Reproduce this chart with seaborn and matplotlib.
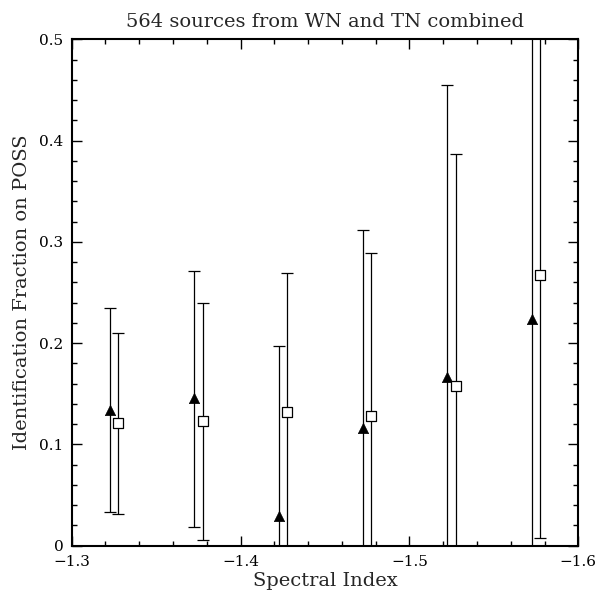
import numpy as np
import pandas as pd
import matplotlib
matplotlib.use("Agg")
import matplotlib.pyplot as plt
import seaborn as sns
from matplotlib.ticker import MultipleLocator

# Data
bin_centers = [-1.325, -1.375, -1.425, -1.475, -1.525, -1.575]
offset = 0.0025

tri_frac = [0.134, 0.146, 0.029, 0.116, 0.167, 0.224]
tri_low = [0.033, 0.018, -0.05, -0.05, -0.05, -0.05]
tri_high = [0.235, 0.271, 0.197, 0.312, 0.455, 0.60]

sq_frac = [0.121, 0.123, 0.132, 0.128, 0.158, 0.267]
sq_low = [0.031, 0.006, -0.05, -0.05, -0.05, 0.008]
sq_high = [0.210, 0.240, 0.269, 0.289, 0.387, 0.60]

title = "564 sources from WN and TN combined"
xlabel = "Spectral Index"
ylabel = "Identification Fraction on POSS"

sns.set_style("ticks")
plt.rcParams["font.family"] = ["DejaVu Serif", "DejaVu Sans"]
plt.rcParams["axes.unicode_minus"] = True

tri_x = [c + offset for c in bin_centers]
sq_x = [c - offset for c in bin_centers]

df_tri = pd.DataFrame({"x": tri_x, "y": tri_frac, "lo": tri_low, "hi": tri_high})
df_sq = pd.DataFrame({"x": sq_x, "y": sq_frac, "lo": sq_low, "hi": sq_high})

fig = plt.figure(figsize=(5.97, 5.96), dpi=100)
ax = fig.add_axes([0.120, 0.0844, 0.8487, 0.8497])

err_kw = dict(fmt="none", ecolor="black", elinewidth=0.9, capsize=4.3, capthick=0.9, zorder=2)
ax.errorbar(df_tri["x"], df_tri["y"],
            yerr=[df_tri["y"] - df_tri["lo"], df_tri["hi"] - df_tri["y"]], **err_kw)
ax.errorbar(df_sq["x"], df_sq["y"],
            yerr=[df_sq["y"] - df_sq["lo"], df_sq["hi"] - df_sq["y"]], **err_kw)

sns.scatterplot(data=df_tri, x="x", y="y", marker="^", s=55, color="black",
                edgecolor="black", linewidth=0.5, ax=ax, zorder=3)
sns.scatterplot(data=df_sq, x="x", y="y", marker="s", s=55, facecolor="white",
                edgecolor="black", linewidth=0.9, ax=ax, zorder=3)

ax.set_xlim(-1.3, -1.6)
ax.set_ylim(0, 0.5)
ax.xaxis.set_major_locator(MultipleLocator(0.1))
ax.xaxis.set_minor_locator(MultipleLocator(0.02))
ax.yaxis.set_major_locator(MultipleLocator(0.1))
ax.yaxis.set_minor_locator(MultipleLocator(0.02))
ax.yaxis.set_major_formatter(matplotlib.ticker.FuncFormatter(
    lambda v, p: "0" if abs(v) < 1e-9 else f"{v:.1f}"))
ax.xaxis.set_major_formatter(matplotlib.ticker.FuncFormatter(
    lambda v, p: f"{v:.1f}".replace("-", "\u2212")))

ax.tick_params(which="both", direction="in", top=True, right=True,
               labelsize=11, width=1.0, colors="black")
ax.tick_params(which="major", length=7)
ax.tick_params(which="minor", length=3.6)
ax.tick_params(axis="x", which="major", pad=7)
ax.tick_params(axis="y", which="major", pad=6)
for s in ax.spines.values():
    s.set_linewidth(1.5)
    s.set_color("black")

ax.set_xlabel(xlabel, fontsize=14, labelpad=2)
ax.set_ylabel(ylabel, fontsize=14, labelpad=6)
ax.set_title(title, fontsize=14, pad=9)

fig.savefig("out.png", dpi=100)
